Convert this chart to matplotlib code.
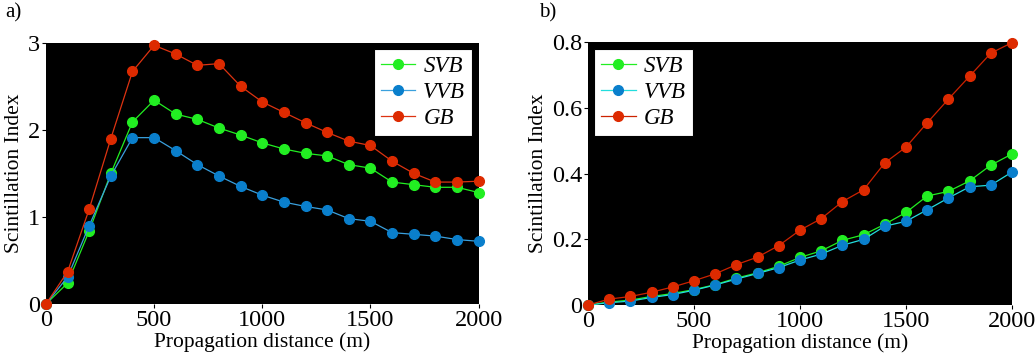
import matplotlib
matplotlib.use("Agg")
import matplotlib.pyplot as plt

plt.rcParams["font.family"] = ["Liberation Serif", "DejaVu Serif"]

distance = list(range(0, 2001, 100))

# panel a)
svb_a = [0, 0.24, 0.84, 1.50, 2.09, 2.34, 2.18, 2.12, 2.02, 1.94, 1.85,
         1.78, 1.73, 1.70, 1.60, 1.56, 1.40, 1.37, 1.34, 1.34, 1.28]
vvb_a = [0, 0.31, 0.90, 1.47, 1.91, 1.91, 1.76, 1.60, 1.47, 1.35, 1.25,
         1.17, 1.12, 1.08, 0.98, 0.95, 0.82, 0.80, 0.78, 0.74, 0.72]
gb_a = [0, 0.37, 1.09, 1.90, 2.67, 2.97, 2.87, 2.74, 2.76, 2.50, 2.32,
        2.20, 2.08, 1.97, 1.87, 1.82, 1.64, 1.50, 1.40, 1.40, 1.41]

# panel b)
svb_b = [0, 0.009, 0.015, 0.026, 0.035, 0.047, 0.062, 0.082, 0.098, 0.118, 0.145,
         0.165, 0.197, 0.214, 0.246, 0.282, 0.332, 0.346, 0.378, 0.426, 0.460]
vvb_b = [0, 0.007, 0.012, 0.023, 0.032, 0.045, 0.061, 0.079, 0.096, 0.114, 0.137,
         0.155, 0.182, 0.200, 0.240, 0.255, 0.290, 0.326, 0.360, 0.365, 0.405]
gb_b = [0, 0.018, 0.026, 0.039, 0.055, 0.074, 0.095, 0.123, 0.146, 0.181, 0.228,
        0.263, 0.315, 0.351, 0.433, 0.481, 0.555, 0.627, 0.697, 0.767, 0.799]

labels = ["SVB", "VVB", "GB"]
marker_colors = ["#22ee22", "#0a7fcc", "#dd2a00"]

fig = plt.figure(figsize=(10.35, 3.58), dpi=100)
ax_a = fig.add_axes([0.0444, 0.1508, 0.418, 0.7299])
ax_b = fig.add_axes([0.5681, 0.148, 0.4097, 0.7338])


def draw_panel(ax, series, line_colors, ylim, yticks, ytick_labels, legend_loc):
    ax.set_facecolor("black")
    for vals, lab, mc, lc in zip(series, labels, marker_colors, line_colors):
        ax.plot(distance, vals, "-o", color=lc, markerfacecolor=mc, markeredgecolor=mc,
                markersize=7, linewidth=0.9, label=lab, clip_on=False)
    ax.set_xlim(0, 2000)
    ax.set_ylim(*ylim)
    ax.set_xticks([0, 500, 1000, 1500, 2000])
    ax.set_yticks(yticks)
    ax.set_yticklabels(ytick_labels)
    ax.tick_params(labelsize=17.5, length=3, color="black", pad=1)
    for s in ax.spines.values():
        s.set_visible(False)
    ax.set_xlabel("Propagation distance (m)", fontsize=15.5, labelpad=1)
    ax.set_ylabel("Scintillation Index", fontsize=15.5, labelpad=3)
    leg = ax.legend(loc=legend_loc, prop={"style": "italic", "size": 16.5},
                    fancybox=False, framealpha=1, edgecolor="black",
                    borderaxespad=0.28, handlelength=1.5, handletextpad=0.35,
                    labelspacing=0.22, borderpad=0.3)
    leg.get_frame().set_linewidth(0.8)


draw_panel(ax_a, [svb_a, vvb_a, gb_a], ["#22ee22", "#3aa0dd", "#dd3311"],
           (0, 3), [0, 1, 2, 3], ["0", "1", "2", "3"], "upper right")
draw_panel(ax_b, [svb_b, vvb_b, gb_b], ["#22ee22", "#22dddd", "#cc2200"],
           (0, 0.8), [0, 0.2, 0.4, 0.6, 0.8], ["0", "0.2", "0.4", "0.6", "0.8"], "upper left")

fig.text(0.005, 0.965, "a)", fontsize=15, va="center")
fig.text(0.521, 0.965, "b)", fontsize=15, va="center")

fig.savefig("out.png", dpi=100)
